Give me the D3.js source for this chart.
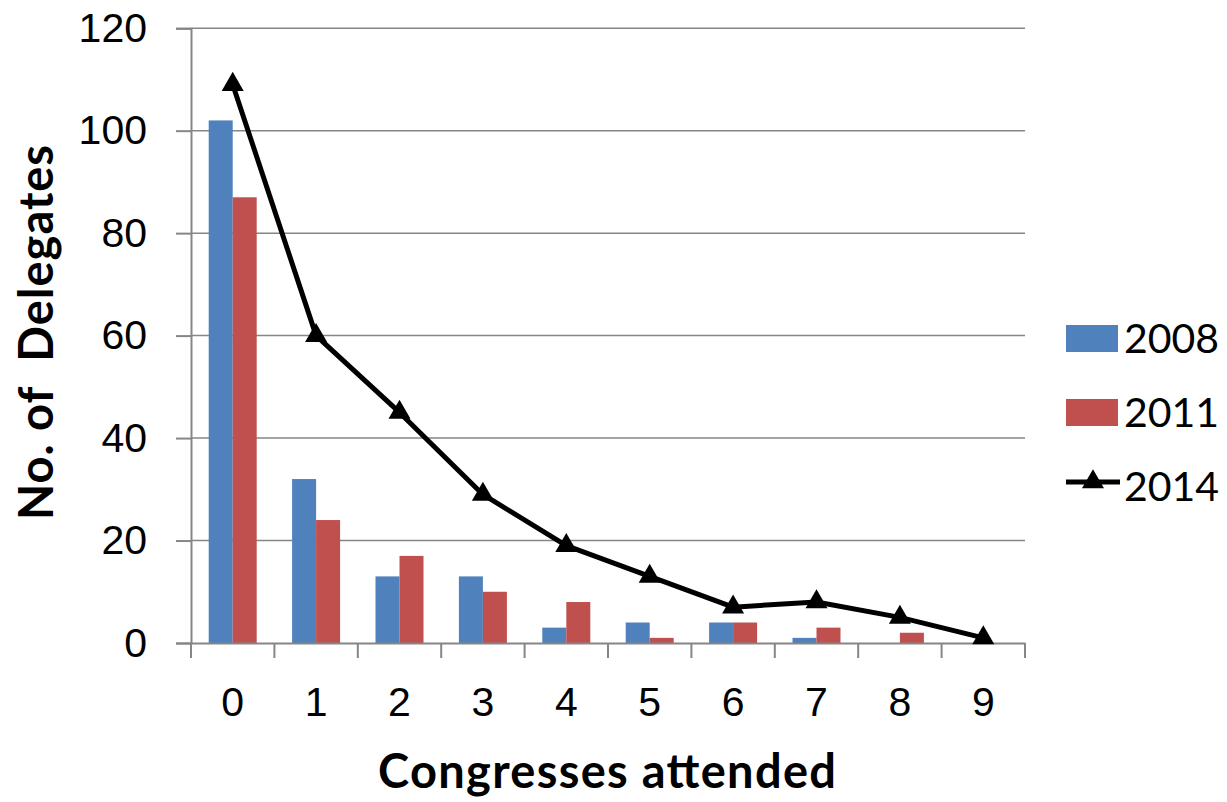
<!DOCTYPE html>
<html><head><meta charset="utf-8">
<script src="https://cdn.jsdelivr.net/npm/d3@7"></script>
<style>body{margin:0;background:#fff;} svg{display:block;font-family:Lato, "Open Sans", sans-serif;}</style>
</head><body><svg id="c" width="1227" height="802"></svg>
<script>
const categories = ["0","1","2","3","4","5","6","7","8","9"];
const s2008 = [102, 32, 13, 13, 3, 4, 4, 1, 0, 0];
const s2011 = [87, 24, 17, 10, 8, 1, 4, 3, 2, 0];
const s2014 = [109, 60, 45, 29, 19, 13, 7, 8, 5, 1];
const yTicks = [0, 20, 40, 60, 80, 100, 120];
const seriesNames = ["2008", "2011", "2014"];
const colors = {"2008": "#4f81bd", "2011": "#c0504d", "2014": "#000000"};

const svg = d3.select("#c");
const pLeft = 191, pRight = 1025, pTop = 28.2, pBottom = 643;
const x = d3.scaleBand().domain(categories).range([pLeft, pRight]).paddingInner(0).paddingOuter(0);
const y = d3.scaleLinear().domain([0, 120]).range([pBottom, pTop]);
const barW = 24;

// gridlines
svg.append("g").selectAll("line").data(yTicks.filter(d => d > 0)).join("line")
  .attr("x1", pLeft).attr("x2", pRight).attr("y1", d => y(d)).attr("y2", d => y(d))
  .attr("stroke", "#868686").attr("stroke-width", 1.5);

// bars
const gb = svg.append("g");
gb.append("g").selectAll("rect").data(s2008).join("rect")
  .attr("x", (d, i) => x(categories[i]) + x.bandwidth() / 2 - barW)
  .attr("width", barW).attr("y", d => y(d)).attr("height", d => y(0) - y(d))
  .attr("fill", colors["2008"]);
gb.append("g").selectAll("rect").data(s2011).join("rect")
  .attr("x", (d, i) => x(categories[i]) + x.bandwidth() / 2)
  .attr("width", barW).attr("y", d => y(d)).attr("height", d => y(0) - y(d))
  .attr("fill", colors["2011"]);

// axes
const yAxis = d3.axisLeft(y).tickValues(yTicks).tickSize(15).tickPadding(12);
const gy = svg.append("g").attr("transform", `translate(${pLeft},0)`).call(yAxis);
gy.select(".domain").attr("stroke", "#868686").attr("stroke-width", 2);
gy.selectAll(".tick line").attr("stroke", "#868686").attr("stroke-width", 2);
gy.selectAll("text").attr("font-size", 41).attr("fill", "#000").attr("x", -44);

const xAxis = d3.axisBottom(x).tickSize(0).tickPadding(44);
const gx = svg.append("g").attr("transform", `translate(0,${pBottom})`).call(xAxis);
gx.select(".domain").attr("stroke", "#868686").attr("stroke-width", 2);
gx.selectAll("text").attr("font-size", 41).attr("fill", "#000");
// category boundary ticks
gx.append("g").selectAll("line").data(categories.concat(["end"])).join("line")
  .attr("x1", (d, i) => i < categories.length ? x(d) : pRight)
  .attr("x2", (d, i) => i < categories.length ? x(d) : pRight)
  .attr("y1", 0).attr("y2", 15).attr("stroke", "#868686").attr("stroke-width", 2);

// line 2014
const cx = (d, i) => x(categories[i]) + x.bandwidth() / 2;
svg.append("path").datum(s2014)
  .attr("d", d3.line().x(cx).y(d => y(d)))
  .attr("fill", "none").attr("stroke", "#000").attr("stroke-width", 5).attr("stroke-linejoin", "round");
const tri = d3.symbol().type(d3.symbolTriangle).size(210);
svg.append("g").selectAll("path").data(s2014).join("path")
  .attr("d", tri).attr("transform", (d, i) => `translate(${cx(d, i)},${y(d)})`).attr("fill", "#000");

// axis titles
svg.append("text").attr("x", 378).attr("y", 788)
  .attr("font-size", 47).attr("font-weight", "bold")
  .attr("textLength", 458).attr("lengthAdjust", "spacing").text("Congresses attended");
svg.append("text").attr("transform", "translate(53,520) rotate(-90)")
  .attr("font-size", 47).attr("font-weight", "bold").style("white-space", "pre")
  .attr("textLength", 375).attr("lengthAdjust", "spacing").text("No. of  Delegates");

// legend
const lg = svg.append("g");
const ly = [338, 412, 486];
seriesNames.forEach((s, i) => {
  if (i < 2) {
    lg.append("rect").attr("x", 1066).attr("y", ly[i] - 13).attr("width", 52).attr("height", 27).attr("fill", colors[s]);
  } else {
    lg.append("line").attr("x1", 1066).attr("x2", 1120).attr("y1", ly[i]-4).attr("y2", ly[i]-4).attr("stroke", "#000").attr("stroke-width", 5);
    lg.append("path").attr("d", tri).attr("transform", `translate(1093,${ly[i]-4})`).attr("fill", "#000");
  }
  lg.append("text").attr("x", 1124).attr("y", ly[i] + 15).attr("font-size", 41).attr("fill", "#000").text(s);
});
</script></body></html>
